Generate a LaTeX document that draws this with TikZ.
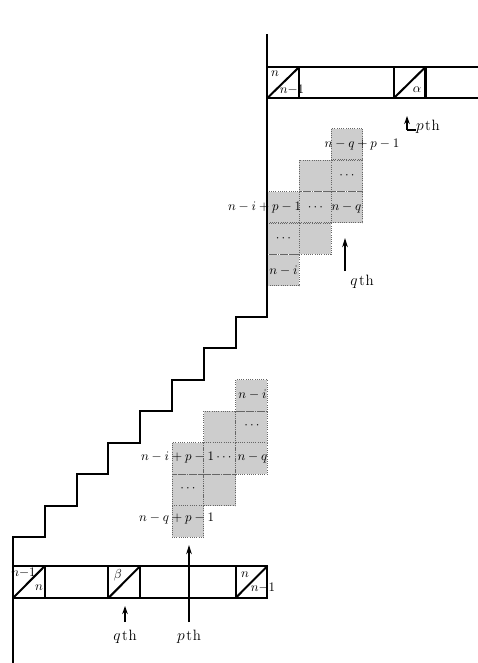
\documentclass[tikz,border=0pt]{standalone}
\usetikzlibrary{arrows.meta}
\definecolor{gfill}{RGB}{205,205,205}
\newcommand{\ordth}[1]{{\fontsize{11.5}{13}\selectfont$#1$\kern1.2pt t\kern0.6pt h}}
\begin{document}
\begin{tikzpicture}[x=0.7692pt,y=-0.7692pt,
  heavy/.style={line width=1.55pt,line join=miter},
  gcell/.style={draw=black!60,densely dotted,line width=0.7pt,fill=gfill,
    minimum width=24.46pt,minimum height=24.15pt,inner sep=0pt,outer sep=0pt},
  lab/.style={inner sep=0pt,outer sep=0pt},
  arr/.style={line width=1.55pt,-{Stealth[length=7pt,width=4.3pt]}},
  smallarr/.style={line width=1.55pt,-{Stealth[length=6.2pt,width=4.3pt]}}]
\useasboundingbox (0,0) rectangle (478,663);

% ---------- lower grey block ----------
\node[gcell] (a1) at (187.9,521.3) {};
\node[gcell] (a2) at (187.9,489.9) {};
\node[gcell] (a3) at (187.9,458.4) {};
\node[gcell] (b2) at (219.7,489.9) {};
\node[gcell] (b3) at (219.7,458.4) {};
\node[gcell] (b4) at (219.7,427.0) {};
\node[gcell] (c3) at (251.5,458.4) {};
\node[gcell] (c4) at (251.5,427.0) {};
\node[gcell] (c5) at (251.5,395.6) {};

% ---------- upper grey block ----------
\node[gcell] (u11) at (283.3,270.25) {};
\node[gcell] (u12) at (283.3,238.75) {};
\node[gcell] (u13) at (283.3,207.25) {};
\node[gcell] (u22) at (315.1,238.75) {};
\node[gcell] (u23) at (315.1,207.25) {};
\node[gcell] (u24) at (315.1,175.75) {};
\node[gcell] (u33) at (346.9,207.25) {};
\node[gcell] (u34) at (346.9,175.75) {};
\node[gcell] (u35) at (346.9,144.25) {};

% ---------- staircase ----------
\draw[heavy] (13,663) -- (13,537) -- (44.8,537) -- (44.8,505.6) -- (76.6,505.6)
  -- (76.6,474.1) -- (108.4,474.1) -- (108.4,442.7) -- (140.2,442.7)
  -- (140.2,411.3) -- (172,411.3) -- (172,379.9) -- (203.8,379.9)
  -- (203.8,348.4) -- (235.6,348.4) -- (235.6,317) -- (267.4,317) -- (267.4,34);

% ---------- bottom bar ----------
\draw[heavy] (13,566) rectangle (267.4,598);
\draw[heavy] (44.8,566) -- (44.8,598);
\draw[heavy] (108.4,566) -- (108.4,598);
\draw[heavy] (140.2,566) -- (140.2,598);
\draw[heavy] (235.6,566) -- (235.6,598);
\draw[heavy] (13,598) -- (44.8,566);
\draw[heavy] (108.4,598) -- (140.2,566);
\draw[heavy] (235.6,598) -- (267.4,566);

% ---------- top bar ----------
\draw[heavy] (478,67) -- (267.4,67) -- (267.4,98) -- (478,98);
\draw[heavy] (299.2,67) -- (299.2,98);
\draw[heavy] (394,67) -- (394,98);
\draw[heavy] (425.5,67) -- (425.5,98);
\draw[heavy] (267.4,98) -- (299.2,67);
\draw[heavy] (394,98) -- (425.5,67);

% ---------- bar labels ----------
\node[lab] (bl1) at (23.5,573) {$n{-}1$};
\node[lab] (bl2) at (39,588) {$n$};
\node[lab] (bbeta) at (118,575) {$\beta$};
\node[lab] (bl3) at (245,575) {$n$};
\node[lab] (bl4) at (263,588) {$n{-}1$};
\node[lab] (tl1) at (275,74) {$n$};
\node[lab] (tl2) at (292,90) {$n{-}1$};
\node[lab] (talpha) at (417,90) {$\alpha$};

% ---------- grey-cell labels, lower ----------
\node[lab] (lni) at (252.5,395) {$n-i$};
\node[lab] (ldc) at (252,426) {$\cdots$};
\node[lab,anchor=east] (lnip) at (214,457.5) {$n-i+p-1$};
\node[lab] (ldm) at (224,457.5) {$\cdots$};
\node[lab] (lnq) at (252.5,457.5) {$n-q$};
\node[lab] (lda) at (188,489) {$\cdots$};
\node[lab,anchor=east] (lnqp) at (214,519) {$n-q+p-1$};

% ---------- grey-cell labels, upper ----------
\node[lab] (unqp) at (362,144.5) {$n-q+p-1$};
\node[lab,anchor=east] (unip) at (301,207.5) {$n-i+p-1$};
\node[lab] (udm) at (315.5,207.5) {$\cdots$};
\node[lab] (unq) at (346.5,207.5) {$n-q$};
\node[lab] (udc) at (347,176) {$\cdots$};
\node[lab] (uda) at (283.5,239) {$\cdots$};
\node[lab] (uni) at (283.5,270.5) {$n-i$};

% ---------- arrows ----------
\coordinate (pbot) at (189,622);
\coordinate (ptop) at (189,545);
\draw[arr] (pbot) -- (ptop);
\node[lab] (pthb) at (189,637) {\ordth{p}};

\coordinate (qbot) at (125,622);
\coordinate (qtop) at (125,606);
\draw[smallarr] (qbot) -- (qtop);
\node[lab] (qthb) at (125,637) {\ordth{q}};

\coordinate (uqbot) at (345,271);
\coordinate (uqtop) at (345,238);
\draw[arr] (uqbot) -- (uqtop);
\node[lab] (qthu) at (362,282) {\ordth{q}};

\coordinate (upfoot) at (416,130);
\coordinate (upbase) at (407,130);
\coordinate (uptop) at (407,116);
\draw[line width=1.55pt] (upfoot) -- (upbase);
\draw[smallarr] (upbase) -- (uptop);
\node[lab,anchor=west] (pthu) at (416,127) {\ordth{p}};
\end{tikzpicture}
\end{document}
